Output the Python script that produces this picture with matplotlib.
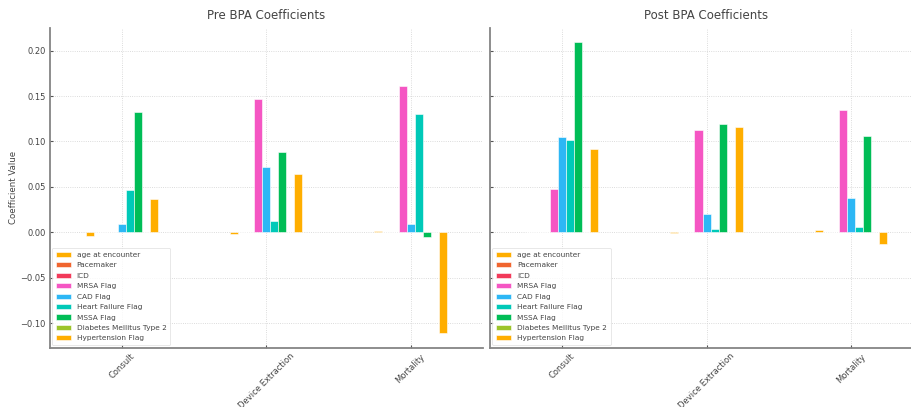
import numpy as np
import matplotlib
matplotlib.use("Agg")
import matplotlib.pyplot as plt

# Outcomes (x groups) and model features (bar series)
outcomes = ["Consult", "Device Extraction", "Mortality"]
features = ["age at encounter", "Pacemaker", "ICD", "MRSA Flag", "CAD Flag",
            "Heart Failure Flag", "MSSA Flag", "Diabetes Mellitus Type 2",
            "Hypertension Flag"]

# Coefficients per outcome, in feature order
pre_consult = [-0.0035, 0.0, 0.0, 0.0004, 0.0088, 0.0466, 0.1328, 0.0, 0.0363]
pre_extraction = [-0.0022, 0.0, 0.0, 0.1465, 0.0716, 0.0128, 0.0888, 0.0, 0.0642]
pre_mortality = [0.0010, 0.0, 0.0, 0.1611, 0.0091, 0.1303, -0.0048, 0.0, -0.1112]

post_consult = [0.0005, 0.0, 0.0, 0.0473, 0.1050, 0.1013, 0.2096, 0.0, 0.0914]
post_extraction = [-0.0012, 0.0, 0.0, 0.1123, 0.0198, 0.0036, 0.1196, 0.0, 0.1160]
post_mortality = [0.0022, 0.0, 0.0, 0.1343, 0.0381, 0.0058, 0.1057, 0.0, -0.0125]

palette = ["#FFAE00", "#F0652F", "#F23A5A", "#F556C3", "#2DB7F5",
           "#00C9B8", "#00BD56", "#9DC42A", "#FFAE00"]

text_color = "#444444"
spine_color = "#858585"

plt.rcParams.update({
    "font.family": ["DejaVu Sans"],
    "text.color": text_color,
    "axes.labelcolor": text_color,
    "xtick.color": text_color,
    "ytick.color": text_color,
})

fig = plt.figure(figsize=(9.12, 4.07), dpi=100)
ax_pre = fig.add_axes([0.0545, 0.1457, 0.4748, 0.7863])
ax_post = fig.add_axes([0.5373, 0.1457, 0.4748, 0.7863], sharey=ax_pre)


def draw_panel(ax, table, title, show_ylabels):
    data = np.array(table).T  # rows: features, cols: outcomes
    x = np.arange(len(outcomes))
    n = len(features)
    w = 0.5 / n
    for i, name in enumerate(features):
        ax.bar(x + (i - (n - 1) / 2) * w, data[i], width=w,
               color=palette[i], edgecolor="white", linewidth=0.4,
               label=name, zorder=3)
    ax.set_xlim(-0.5, len(outcomes) - 0.5)
    ax.set_ylim(-0.127, 0.2253)
    ax.set_xticks(x)
    ax.set_xticklabels(outcomes, rotation=45, ha="center", fontsize=6)
    ax.set_yticks([-0.10, -0.05, 0.0, 0.05, 0.10, 0.15, 0.20])
    ax.yaxis.set_major_formatter(matplotlib.ticker.FuncFormatter(
        lambda v, _: f"{v:.2f}".replace("-", "\u2212")))
    ax.tick_params(axis="both", direction="in", length=2.5, width=0.8,
                   labelsize=6, color="#555555", pad=3)
    if not show_ylabels:
        ax.tick_params(axis="y", labelleft=False)
    ax.set_title(title, fontsize=8.5, color=text_color, pad=6)
    ax.grid(True, linestyle=":", linewidth=0.6, color="#d0d0d0", zorder=0)
    for side in ("top", "right"):
        ax.spines[side].set_visible(False)
    for side in ("left", "bottom"):
        ax.spines[side].set_color(spine_color)
        ax.spines[side].set_linewidth(1.3)
    leg = ax.legend(loc="lower left", fontsize=5.3, frameon=True,
                    handlelength=2.0, handleheight=0.7, labelspacing=0.58,
                    borderpad=0.55, borderaxespad=0.3, fancybox=True)
    leg.get_frame().set_edgecolor("#dddddd")
    leg.get_frame().set_linewidth(0.6)
    for t in leg.get_texts():
        t.set_color(text_color)


draw_panel(ax_pre, [pre_consult, pre_extraction, pre_mortality],
           "Pre BPA Coefficients", True)
draw_panel(ax_post, [post_consult, post_extraction, post_mortality],
           "Post BPA Coefficients", False)
ax_pre.set_ylabel("Coefficient Value", fontsize=6.2, labelpad=1.5)

fig.savefig("out.png", dpi=100)
